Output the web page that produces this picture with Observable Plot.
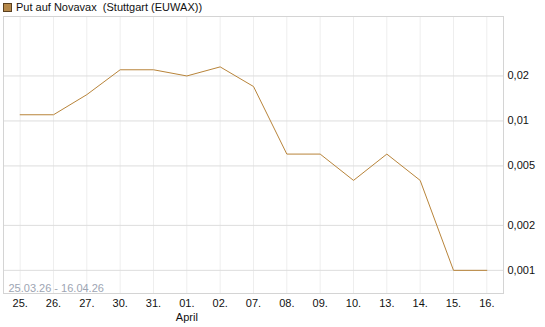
<!DOCTYPE html>
<html>
<head>
<meta charset="utf-8">
<script src="https://cdn.jsdelivr.net/npm/d3@7"></script>
<script src="https://cdn.jsdelivr.net/npm/@observablehq/plot@0.6"></script>
<style>
  body { margin: 0; background: #fff; font-family: "Liberation Sans", Arial, sans-serif; }
  #wrap { position: relative; width: 545px; height: 327px; }
  #legend { position: absolute; left: 3px; top: 1px; font-size: 11px; color: #111; display: flex; align-items: center; white-space: pre; }
  #legend .sw { width: 7px; height: 7px; background: #b5884a; border: 1px solid #5a4020; margin-right: 4px; }
  #chart { position: absolute; left: 0; top: 0; }
</style>
</head>
<body>
<div id="wrap">
  <div id="chart"></div>
  <div id="legend"><span class="sw"></span><span>Put auf Novavax  (Stuttgart (EUWAX))</span></div>
</div>
<script>
const dates = ["25.", "26.", "27.", "30.", "31.", "01.", "02.", "07.", "08.", "09.", "10.", "13.", "14.", "15.", "16."];
const values = [0.011, 0.011, 0.015, 0.022, 0.022, 0.020, 0.023, 0.017, 0.006, 0.006, 0.004, 0.006, 0.004, 0.001, 0.001];
const yTicks = [0.001, 0.002, 0.005, 0.01, 0.02];
const monthLabels = {"01.": "April"};
const rangeLabel = "25.03.26 - 16.04.26";

const data = dates.map((d, i) => ({date: d, value: values[i]}));
const fmtY = v => String(v).replace(".", ",");

const chart = Plot.plot({
  width: 545,
  height: 327,
  marginLeft: 3,
  marginRight: 42,
  marginTop: 16,
  marginBottom: 34,
  style: {fontFamily: "Liberation Sans, Arial, sans-serif", fontSize: "11px", color: "#111", background: "transparent"},
  x: {type: "point", domain: dates, padding: 0.5, round: false, label: null},
  y: {type: "log", domain: [0.0007, 0.05], ticks: yTicks, tickFormat: fmtY, label: null},
  marks: [
    Plot.gridX({stroke: "#eeeeee", strokeOpacity: 1}),
    Plot.gridY({ticks: yTicks, stroke: "#dddddd", strokeOpacity: 1}),
    Plot.frame({stroke: "#d4d4d4"}),
    Plot.axisX({tickSize: 0, tickPadding: 3, tickFormat: d => monthLabels[d] ? d + "\n" + monthLabels[d] : d, lineHeight: 1.3, fill: "#111", label: null}),
    Plot.axisY({ticks: yTicks, anchor: "right", tickSize: 0, tickPadding: 4, tickFormat: fmtY, fill: "#111", label: null}),
    Plot.text([rangeLabel], {frameAnchor: "bottom-left", dx: 5, dy: -2, fill: "#9da5b3", fontSize: 11, textAnchor: "start"}),
    Plot.line(data, {x: "date", y: "value", stroke: "#b8843a", strokeWidth: 1})
  ]
});
document.getElementById("chart").append(chart);
</script>
</body>
</html>
